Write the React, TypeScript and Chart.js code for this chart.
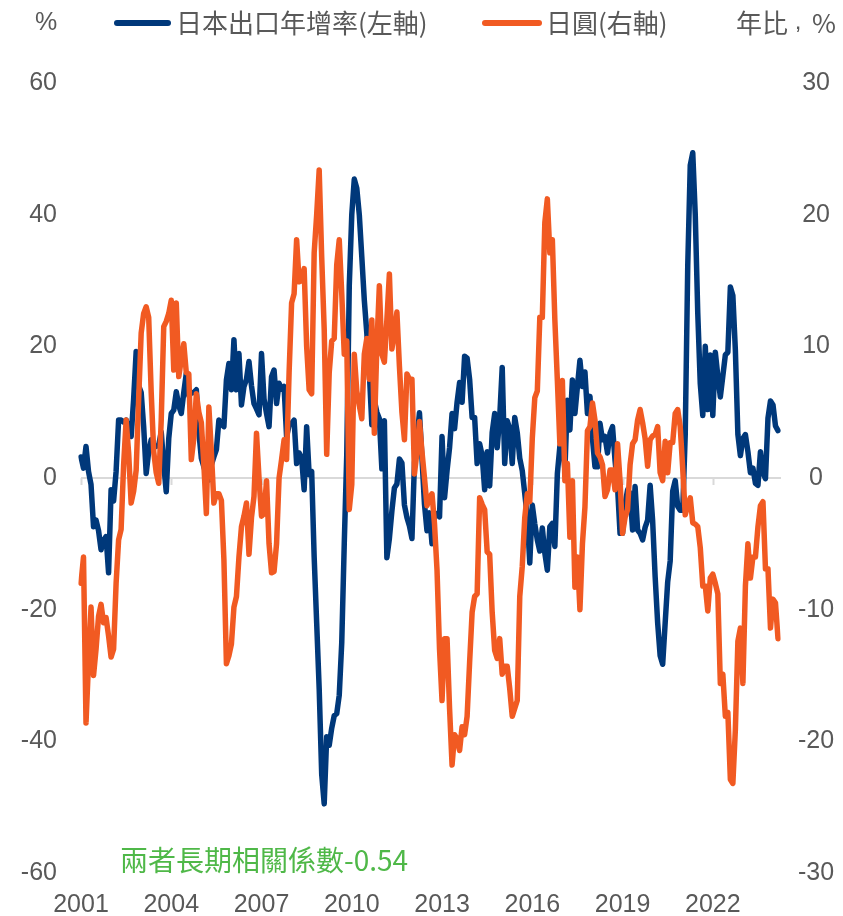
import { useEffect, useRef } from "react";
import { Chart, registerables } from "chart.js";

Chart.register(...registerables);

// Monthly series, Jan 2001 onward
const START_YEAR = 2001;

// Japan exports, year-on-year % (left axis)
const exportsYoY = [
  3.2, 1.5, 4.8, 1, -1, -7.4, -6.4, -8, -10.9, -9.5, -8.9, -14.4,
  -1.8, -3.5, 1, 8.8, 8.8, 8.5, 8.8, 7.5, 6.3, 12, 19.2, 14,
  13, 7.8, 0.7, 4, 5.8, 5, 4.8, 5, 7, 2, -2.1, 6,
  9.8, 10.3, 13.1, 11, 9.8, 13, 15.9, 12.5, 12.9, 13, 13.4, 7,
  3, 1.7, 0.5, -0.3, 2, 3.2, 4.3, 8.8, 8.2, 7.8, 14.9, 17.4,
  13.4, 21, 13.4, 18.9, 11.1, 13.9, 15, 17.7, 14, 11.3, 10.5, 9.6,
  18.9, 12, 9.8, 7.8, 15.4, 16.4, 11.3, 14.4, 13.5, 13.9, 6.3, 8,
  8.3, 8.8, 2.2, 3.8, 3, -1.8, 7.8, 0.5, 1, -12, -22, -32,
  -45, -49.5, -39.3, -40.6, -38, -36.1, -35.8, -33, -25, -10, 3.6, 29.2,
  40, 45.4, 44, 40, 33.6, 27, 22, 16, 8.1, 11.8, 10, 9,
  1.4, 8.7, -12.1, -9.2, -5, -1.5, -0.9, 2.9, 2.3, -4.1, -6, -7.3,
  -9.2, 2.3, 6, 9.9, 3, -4, -8, -5.3, -10, -5.3, -5.5, -5.9,
  6.3, -3, 1.1, 4.6, 9.8, 7.5, 11.5, 14.5, 11.5, 18.5, 18.2, 15,
  9.2, 9.2, 2.2, 5.2, 3.4, -1.8, 4, -1.2, 6.9, 9.8, 4.6, 9.2,
  16.8, 2.2, 8.7, 7.5, 2.2, 9.2, 6.9, 3, 1.1, -2.4, -5.9, -12.9,
  -4.1, -7, -9.4, -11.1, -7.6, -11.4, -14, -7.4, -6.9, -10.4, 0.7, 4.8,
  5.8, 1.2, 11.8, 7.3, 14.9, 9.8, 13.9, 17.9, 13.9, 16.1, 9.8, 12.4,
  6, 1.7, 1.7, 8.3, 5.8, 6.3, 3.8, 6.8, 7.8, 2.7, -1.3, -8.4,
  -8.4, -4, -1.8, -2.3, -7.9, -1.3, -7.9, -8.4, -9.4, -7.5, -6.4, -1.1,
  -6.5, -15, -22, -27, -28.3, -22, -15.8, -12.6, -2, -0.4, -4.3, -4.9,
  -4.9, 6.6, 32.2, 47.5, 49.4, 40, 25, 14.3, 9.5, 20, 10.4, 18.7,
  9.5, 19.1, 15.5, 12.3, 15.5, 18.7, 19.1, 29, 27.7, 19.4, 6.6, 3.4,
  6, 6.6, 4, 0.8, 1.5, -0.8, -1.1, 4, 0.8, -0.1, 9.1, 11.7,
  11.1, 7.9, 7.2,
];

// Yen, year-on-year % (right axis)
const yenYoY = [
  -8, -6, -18.6, -14, -9.8, -15, -13, -10.5, -9.6, -11, -10.6, -12,
  -13.6, -13, -8, -4.7, -3.9, 1, 4.4, 1.9, -1.9, -1, 0.6, 6,
  11, 12.5, 13, 12.2, 6.5, 2, 0.4, -0.4, 4.4, 11.5, 11.9, 12.5,
  13.5, 8.2, 13.3, 7.7, 9, 10.2, 8, 7.9, 1.4, 3, 6.4, 5,
  4.2, 1, -2.7, 5.4, 2, -1.9, -1.2, -1.2, -1.7, -6.2, -14.1, -13.5,
  -12.6, -9.8, -9, -6, -3.7, -2.9, -1.9, -5.8, -3, -1.4, 3.4, 0,
  -2.9, -2.7, -0.2, -5, -7.2, -7.1, -5, 0, 1.4, 2.9, 1.4, 8,
  13.3, 14, 18.1, 14.9, 15, 15.9, 10, 6.7, 6.4, 17.1, 20, 23.4,
  16.8, 11.3, 1.8, 8, 10.4, 10.6, 16.2, 18.1, 14, 9.4, 10.4, -2.4,
  -0.5, 9.4, 6.6, 5.5, 4.5, 9.4, 10.6, 7.5, 12, 3.4, 10, 14.6,
  9.4, 8.8, 12, 15.5, 9.8, 11, 12.6, 8.5, 5, 2.9, 7.9, 7.5,
  7.5, 0.3, 2, 4.3, 2, 0, -2.1, -1.5, -1.2, -3.5, -7, -13,
  -16.9, -12.2, -12.2, -17.5, -21.8, -19.5, -19.8, -20.7, -18.9, -19.5, -18.1, -14,
  -10.2, -9, -8.8, -1.5, -2, -2.4, -5.6, -5.8, -10.2, -13.1, -13.7, -12.2,
  -14.9, -14.3, -14.3, -16, -18.1, -17.5, -16.9, -9, -6.7, -3, -1.2, -1.8,
  3, 6.1, 6.6, 12.2, 12.2, 19.4, 21.2, 17.1, 18.1, 12, 7.4, 2.6,
  7.4, -0.2, 1.1, -4.5, -0.2, -8.3, -6, -10, -5, -2.2, 3.6, 3.9,
  5.7, 4.4, 1.9, 1.6, 1, -1.4, -0.9, 0.6, 0.6, -0.9, 2.6, -0.2,
  -4.2, -3, -2.4, 1, 2.6, 2.9, 4.4, 5.2, 4.2, 3, 0.9, 2.9,
  3.2, 3.3, 3.9, 0.4, -0.2, 2.8, 0.4, 2.7, 2.7, 4.9, 5.2, 3.9,
  0.7, -2.8, -2.1, -1.5, -3.4, -3.5, -3.7, -5.3, -8.2, -8.2, -10.1, -7.6,
  -7.3, -8, -8.8, -15.6, -14.9, -18.1, -17.8, -22.9, -23.2, -19.1, -12.4, -11.4,
  -15.6, -8.2, -5, -7.6, -6, -6, -3.7, -2.1, -1.8, -6.9, -6.9, -11.4,
  -9.2, -9.5, -12.2,
];

// Year labels shown on the category axis
const yearTicks = ["2001", "2004", "2007", "2010", "2013", "2016", "2019", "2022"];

const seriesNames = ["日本出口年增率(左軸)", "日圓(右軸)"];
const leftUnit = "%";
const rightUnit = ["年比", ",", "%"];
const note = "兩者長期相關係數-0.54";

// Month categories "YYYY-MM"
const months: string[] = exportsYoY.map((_, i) => {
  const y = START_YEAR + Math.floor(i / 12);
  const m = (i % 12) + 1;
  return `${y}-${m < 10 ? "0" + m : m}`;
});

const W = 843;
const H = 916;
const BLUE = "#00387A";
const ORANGE = "#F15A22";
const GRAY = "#595959";
const GREEN = "#4FB848";
const LATIN = "'Liberation Sans', Arial, sans-serif";
const CJK = "'Noto Sans CJK TC', 'Noto Sans CJK SC', sans-serif";

const isYearTick = (idx: number) => {
  const lab = months[idx];
  return !!lab && lab.endsWith("-01") && yearTicks.includes(lab.slice(0, 4));
};

const decor = {
  id: "decor",
  beforeDatasetsDraw(chart: any) {
    const { ctx, scales, chartArea } = chart;
    const y0 = scales.yL.getPixelForValue(0);
    ctx.save();
    ctx.strokeStyle = "#D9D9D9";
    ctx.lineWidth = 2;
    ctx.beginPath();
    ctx.moveTo(chartArea.left, y0);
    ctx.lineTo(chartArea.right + 3, y0);
    yearTicks.forEach((t) => {
      const idx = months.indexOf(t + "-01");
      const px = Math.round(scales.x.getPixelForValue(idx)) + 0.5;
      ctx.moveTo(px, y0);
      ctx.lineTo(px, y0 + 7);
    });
    ctx.stroke();
    ctx.restore();
  },
  afterDraw(chart: any) {
    const { ctx } = chart;
    ctx.save();
    ctx.textBaseline = "middle";
    ctx.fillStyle = GRAY;
    ctx.font = `25px ${LATIN}`;
    ctx.textAlign = "left";
    ctx.fillText(leftUnit, 35, 23);

    const legend = [
      { color: BLUE, x0: 117, x1: 168, name: seriesNames[0], tx: 176 },
      { color: ORANGE, x0: 485, x1: 539, name: seriesNames[1], tx: 546 },
    ];
    legend.forEach((l) => {
      ctx.strokeStyle = l.color;
      ctx.lineWidth = 6;
      ctx.lineCap = "round";
      ctx.beginPath();
      ctx.moveTo(l.x0, 23);
      ctx.lineTo(l.x1, 23);
      ctx.stroke();
      ctx.fillStyle = GRAY;
      ctx.font = `26px ${CJK}`;
      ctx.fillText(l.name, l.tx, 23);
    });

    // right-axis unit: "年比", a centred comma, "%"
    ctx.fillStyle = GRAY;
    ctx.font = `26px ${CJK}`;
    ctx.textAlign = "left";
    ctx.fillText(rightUnit[0], 736, 23);
    ctx.textAlign = "right";
    ctx.fillText(rightUnit[2], 836, 23);
    ctx.textAlign = "center";
    ctx.textBaseline = "alphabetic";
    ctx.font = `24px ${LATIN}`;
    ctx.fillText(rightUnit[1], 798, 29);

    ctx.textAlign = "left";
    ctx.textBaseline = "middle";
    ctx.fillStyle = GREEN;
    ctx.font = `28px ${CJK}`;
    ctx.fillText(note, 120, 860);
    ctx.restore();
  },
};

export default function App() {
  const ref = useRef<HTMLCanvasElement | null>(null);

  useEffect(() => {
    if (!ref.current) return;
    const tickFont = { family: LATIN, size: 25 };
    const chart = new Chart(ref.current, {
      type: "line",
      data: {
        labels: months,
        datasets: [
          {
            label: seriesNames[0],
            data: exportsYoY,
            yAxisID: "yL",
            borderColor: BLUE,
            backgroundColor: BLUE,
            borderWidth: 5.5,
            pointRadius: 0,
            tension: 0,
            borderJoinStyle: "round",
            borderCapStyle: "round",
            order: 2,
          },
          {
            label: seriesNames[1],
            data: yenYoY,
            yAxisID: "yR",
            borderColor: ORANGE,
            backgroundColor: ORANGE,
            borderWidth: 5.5,
            pointRadius: 0,
            tension: 0,
            borderJoinStyle: "round",
            borderCapStyle: "round",
            order: 1,
          },
        ],
      },
      options: {
        animation: false,
        responsive: false,
        devicePixelRatio: 1,
        layout: { padding: { top: 83, left: 0, right: 0, bottom: 0 } },
        plugins: {
          legend: { display: false },
          tooltip: { enabled: false },
        },
        scales: {
          x: {
            type: "category",
            offset: false,
            grid: { display: false, drawTicks: false },
            border: { display: false },
            afterBuildTicks: (s: any) => {
              s.ticks = s.ticks.filter((t: any) => isYearTick(t.value));
            },
            afterFit: (s: any) => {
              s.height = 43;
            },
            ticks: {
              autoSkip: false,
              maxRotation: 0,
              minRotation: 0,
              padding: 17,
              color: GRAY,
              font: tickFont,
              callback: (v: any) => months[v as number].slice(0, 4),
            },
          },
          yL: {
            position: "left",
            min: -60,
            max: 60,
            grid: { display: false, drawTicks: false },
            border: { display: false },
            afterFit: (s: any) => {
              s.width = 81;
            },
            ticks: { stepSize: 20, padding: 24, color: GRAY, font: tickFont },
          },
          yR: {
            position: "right",
            min: -30,
            max: 30,
            grid: { display: false, drawTicks: false },
            border: { display: false },
            afterFit: (s: any) => {
              s.width = W - 778;
            },
            ticks: { stepSize: 10, padding: 20, crossAlign: "center", color: GRAY, font: tickFont },
          },
        },
      },
      plugins: [decor],
    } as any);
    return () => chart.destroy();
  }, []);

  return (
    <div style={{ position: "absolute", left: 0, top: 0, width: W, height: H, background: "#fff" }}>
      <canvas ref={ref} width={W} height={H} style={{ display: "block", width: W, height: H }} />
    </div>
  );
}
